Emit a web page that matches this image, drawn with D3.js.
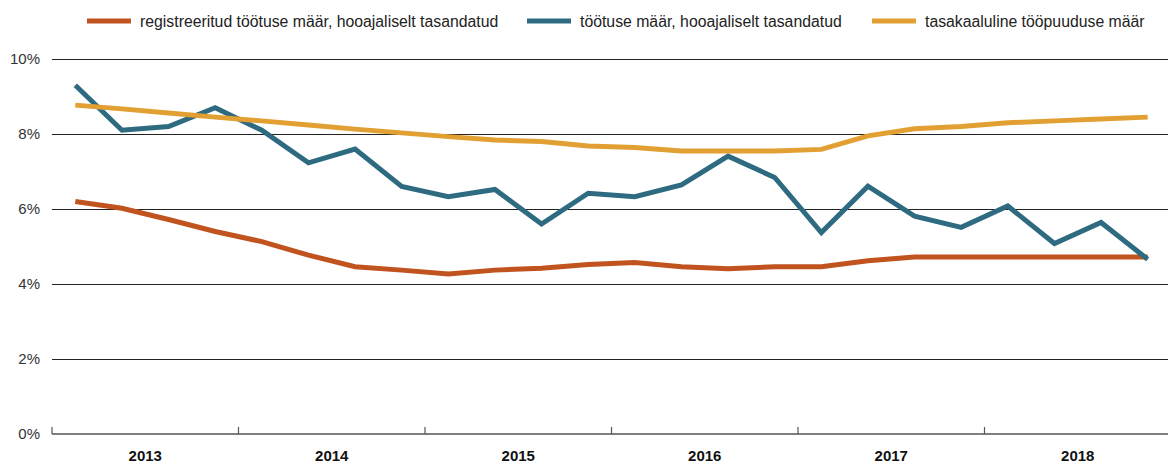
<!DOCTYPE html>
<html>
<head>
<meta charset="utf-8">
<script src="https://cdn.jsdelivr.net/npm/d3@7"></script>
<style>
  body { margin: 0; background: #fff; }
  svg { display: block; font-family: "Liberation Sans", Arial, sans-serif; }
</style>
</head>
<body>
<svg id="chart" width="1168" height="463"></svg>
<script>
// quarterly values, 2013 Q1 .. 2018 Q4
var years = ["2013", "2014", "2015", "2016", "2017", "2018"];
var quarters = ["Q1", "Q2", "Q3", "Q4"];

var registered = [6.2, 6.02, 5.72, 5.4, 5.13, 4.77, 4.46, 4.37,
                  4.27, 4.37, 4.42, 4.52, 4.57, 4.46, 4.41, 4.46,
                  4.46, 4.62, 4.72, 4.72, 4.72, 4.72, 4.72, 4.72];
var unemployment = [9.3, 8.1, 8.2, 8.7, 8.1, 7.23, 7.6, 6.6,
                    6.33, 6.52, 5.6, 6.42, 6.33, 6.64, 7.41, 6.84,
                    5.37, 6.61, 5.81, 5.51, 6.08, 5.08, 5.64, 4.66];
var equilibrium = [8.77, 8.67, 8.56, 8.45, 8.35, 8.24, 8.13, 8.03,
                   7.93, 7.84, 7.8, 7.68, 7.64, 7.55, 7.55, 7.55,
                   7.59, 7.95, 8.14, 8.2, 8.3, 8.35, 8.4, 8.45];
var yTicks = [0, 2, 4, 6, 8, 10];

var seriesNames = ["registreeritud töötuse määr, hooajaliselt tasandatud",
                   "töötuse määr, hooajaliselt tasandatud",
                   "tasakaaluline tööpuuduse määr"];
var seriesColors = ["#c1531f", "#2e6b80", "#e2a033"];
var seriesData = [registered, unemployment, equilibrium];

var periods = [];
years.forEach(function(y) {
    quarters.forEach(function(q) { periods.push(y + q); });
});

var svg = d3.select("#chart");
var mLeft = 52, mRight = 1171, mTop = 59, mBottom = 434;

var xYear = d3.scaleBand().domain(years).range([mLeft, mRight]);
var x = d3.scaleBand().domain(periods).range([mLeft, mRight]);
var y = d3.scaleLinear().domain([0, 10]).range([mBottom, mTop]);

// gridlines
svg.append("g")
    .selectAll("line")
    .data(yTicks.filter(function(d) { return d > 0; }))
    .join("line")
    .attr("x1", mLeft)
    .attr("x2", 1168)
    .attr("y1", function(d) { return y(d) + 0.5; })
    .attr("y2", function(d) { return y(d) + 0.5; })
    .attr("stroke", "#222")
    .attr("stroke-width", 1);

// y labels
svg.append("g")
    .selectAll("text")
    .data(yTicks)
    .join("text")
    .attr("x", 40)
    .attr("y", function(d) { return y(d); })
    .attr("dy", "0.35em")
    .attr("text-anchor", "end")
    .attr("font-size", 15)
    .attr("fill", "#333")
    .text(function(d) { return d + "%"; });

// x axis
var xAxis = d3.axisBottom(xYear).tickSize(0).tickPadding(16);
var gx = svg.append("g")
    .attr("transform", "translate(0," + mBottom + ")")
    .call(xAxis);
gx.select(".domain").remove();
gx.selectAll("text")
    .attr("font-size", 15)
    .attr("font-weight", "bold")
    .attr("fill", "#111")
    .attr("font-family", "Liberation Sans, Arial, sans-serif");

svg.append("line")
    .attr("x1", mLeft).attr("x2", 1168)
    .attr("y1", mBottom).attr("y2", mBottom)
    .attr("stroke", "#555")
    .attr("stroke-width", 1.5);

svg.append("g")
    .selectAll("line")
    .data(years)
    .join("line")
    .attr("x1", function(d) { return xYear(d); })
    .attr("x2", function(d) { return xYear(d); })
    .attr("y1", mBottom - 7)
    .attr("y2", mBottom)
    .attr("stroke", "#555")
    .attr("stroke-width", 1.2);

// lines
var line = d3.line()
    .x(function(d, i) { return x(periods[i]) + x.bandwidth() / 2; })
    .y(function(d) { return y(d); });

seriesData.forEach(function(values, k) {
    svg.append("path")
        .datum(values)
        .attr("fill", "none")
        .attr("stroke", seriesColors[k])
        .attr("stroke-width", 5)
        .attr("stroke-linejoin", "miter")
        .attr("d", line);
});

// legend
var legendX = [87, 527, 872];
var legend = svg.append("g");
seriesNames.forEach(function(name, k) {
    legend.append("line")
        .attr("x1", legendX[k]).attr("x2", legendX[k] + 44)
        .attr("y1", 21).attr("y2", 21)
        .attr("stroke", seriesColors[k])
        .attr("stroke-width", 5);
    legend.append("text")
        .attr("x", legendX[k] + 53)
        .attr("y", 21)
        .attr("dy", "0.35em")
        .attr("font-size", 15.8)
        .attr("fill", "#222")
        .text(name);
});
</script>
</body>
</html>
